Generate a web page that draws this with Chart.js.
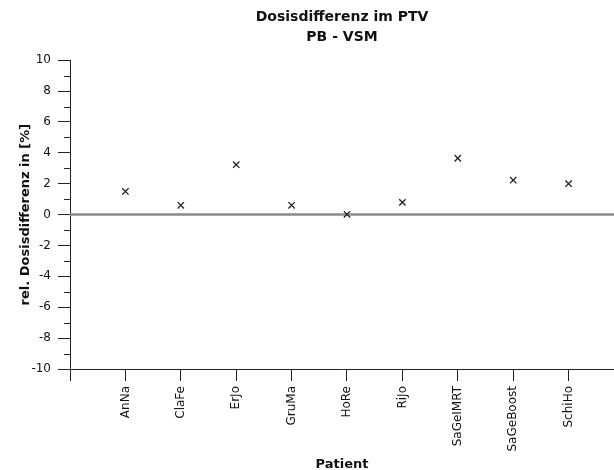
<!DOCTYPE html>
<html>
<head>
<meta charset="utf-8">
<script src="https://cdn.jsdelivr.net/npm/chart.js@4.4.0/dist/chart.umd.min.js"></script>
<style>
  html, body { margin: 0; padding: 0; background: #fff; }
  #wrap { width: 614px; height: 470px; }
</style>
</head>
<body>
<div id="wrap"><canvas id="c" width="614" height="470"></canvas></div>
<script>
const patients = ['AnNa', 'ClaFe', 'ErJo', 'GruMa', 'HoRe', 'RiJo', 'SaGeIMRT', 'SaGeBoost', 'SchiHo'];
const diffValues = [1.5, 0.6, 3.23, 0.6, 0.02, 0.79, 3.65, 2.23, 2.0];
const yTicks = [-10, -8, -6, -4, -2, 0, 2, 4, 6, 8, 10];

const FONT = 'DejaVu Sans, Verdana, sans-serif';

// zero line + minor y ticks
const extras = {
  id: 'extras',
  beforeDatasetsDraw(chart) {
    const { ctx, chartArea, scales } = chart;
    const y = scales.y;
    const y0 = y.getPixelForValue(0);
    ctx.save();
    ctx.strokeStyle = '#8a8a8a';
    ctx.lineWidth = 2.5;
    ctx.beginPath();
    ctx.moveTo(chartArea.left, y0);
    ctx.lineTo(chartArea.right, y0);
    ctx.stroke();
    ctx.strokeStyle = '#222';
    ctx.lineWidth = 1;
    for (let v = -9; v <= 9; v += 2) {
      const p = Math.round(y.getPixelForValue(v)) + 0.5;
      ctx.beginPath();
      ctx.moveTo(chartArea.left - 6, p);
      ctx.lineTo(chartArea.left, p);
      ctx.stroke();
    }
    ctx.restore();
  }
};

new Chart(document.getElementById('c'), {
  type: 'scatter',
  data: {
    datasets: [{
      data: diffValues.map((v, i) => ({ x: i + 1, y: v })),
      pointStyle: 'crossRot',
      pointRadius: 4.5,
      pointHoverRadius: 4.5,
      borderColor: '#222',
      borderWidth: 1.3,
      backgroundColor: '#222'
    }]
  },
  options: {
    responsive: false,
    animation: false,
    layout: { padding: 0, autoPadding: false },
    plugins: {
      legend: { display: false },
      tooltip: { enabled: false },
      title: {
        display: true,
        fullSize: false,
        text: ['Dosisdifferenz im PTV', 'PB - VSM'],
        color: '#111',
        font: { family: FONT, size: 14, weight: 'bold', lineHeight: 1.4 },
        padding: { top: 8, bottom: 13 }
      }
    },
    scales: {
      x: {
        type: 'linear',
        min: 0,
        max: 9.82,
        afterBuildTicks(scale) {
          scale.ticks = [0, 1, 2, 3, 4, 5, 6, 7, 8, 9].map(v => ({ value: v }));
        },
        afterFit(scale) {
          scale.height = 101;
          scale.paddingRight = 0;
        },
        border: { display: true, color: '#222', width: 1 },
        grid: { drawOnChartArea: false, drawTicks: true, tickLength: 12, color: '#222' },
        ticks: {
          color: '#111',
          font: { family: FONT, size: 12 },
          minRotation: 90,
          maxRotation: 90,
          autoSkip: false,
          padding: 5,
          callback: v => (v >= 1 ? patients[v - 1] : '')
        },
        title: {
          display: true,
          text: 'Patient',
          color: '#111',
          font: { family: FONT, size: 13, weight: 'bold' },
          padding: { top: 0, bottom: -2 }
        }
      },
      y: {
        min: -10,
        max: 10,
        afterBuildTicks(scale) {
          scale.ticks = yTicks.map(v => ({ value: v }));
        },
        afterFit(scale) { scale.width = 70; },
        border: { display: true, color: '#222', width: 1 },
        grid: { drawOnChartArea: false, drawTicks: true, tickLength: 12, color: '#222' },
        ticks: {
          color: '#111',
          font: { family: FONT, size: 12 },
          padding: 7
        },
        title: {
          display: true,
          text: 'rel. Dosisdifferenz in [%]',
          color: '#111',
          font: { family: FONT, size: 13, weight: 'bold' },
          padding: { top: 18, bottom: 4 }
        }
      }
    }
  },
  plugins: [extras]
});
</script>
</body>
</html>
